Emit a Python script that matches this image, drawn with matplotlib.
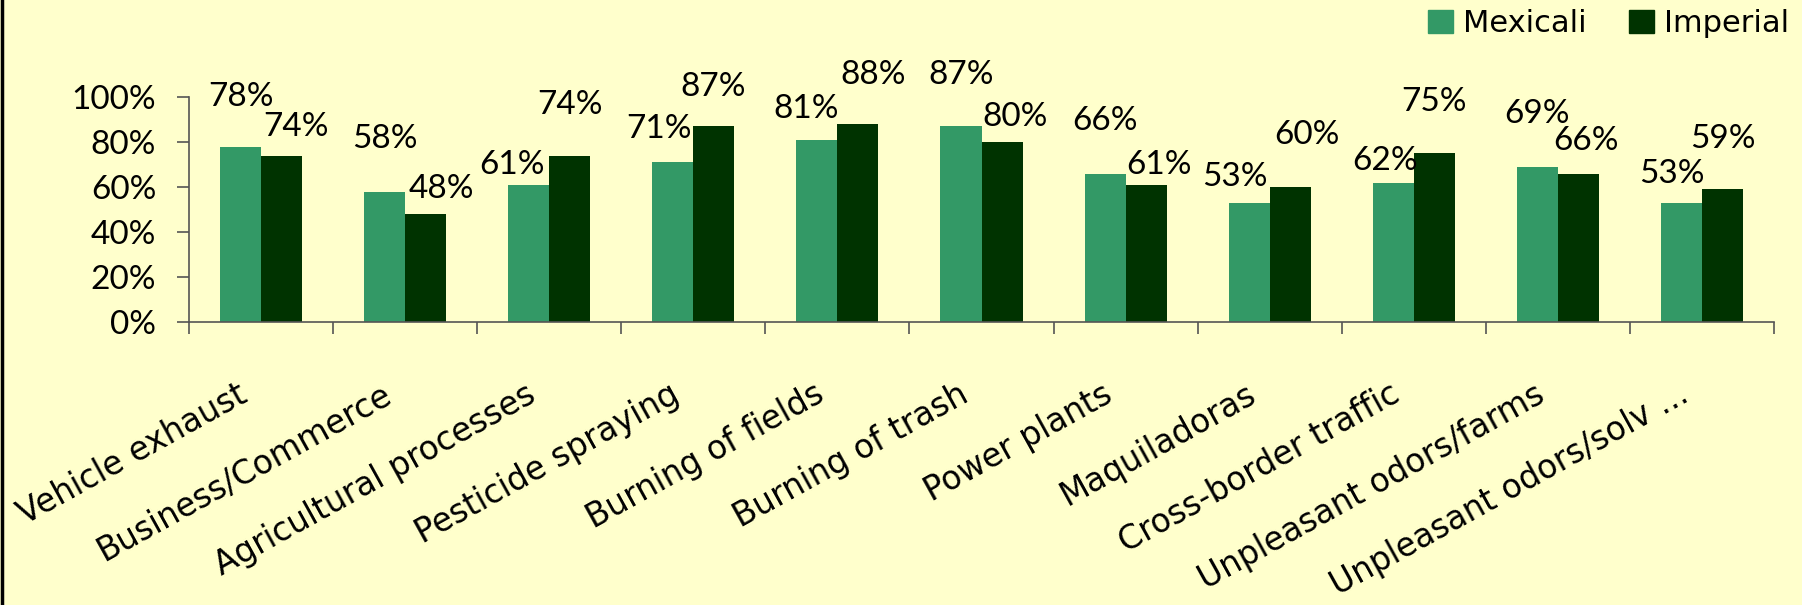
import matplotlib.pyplot as plt
from matplotlib.lines import Line2D
from matplotlib.patches import Patch

# Данні з діаграми
categories = ['Vehicle exhaust', 'Business/Commerce', 'Agricultural processes',
              'Pesticide spraying', 'Burning of fields', 'Burning of trash',
              'Power plants', 'Maquiladoras', 'Cross-border traffic',
              'Unpleasant odors/farms', 'Unpleasant odors/solv ...']
mexicali = [0.78, 0.58, 0.61, 0.71, 0.81, 0.87, 0.66, 0.53, 0.62, 0.69, 0.53]
imperial = [0.74, 0.48, 0.74, 0.87, 0.88, 0.80, 0.61, 0.60, 0.75, 0.66, 0.59]
yticks = [0, 0.2, 0.4, 0.6, 0.8, 1.0]

# Зсуви підписів значень (пікселі від верху стовпця)
mex_off = [(0, 52), (0, 56), (-17, 23), (-14, 36), (-11, 34), (0, 54),
           (0, 55), (-14, 29), (-8, 25), (0, 56), (-10, 32)]
imp_off = [(14, 32), (16, 28), (0, 53), (-1, 42), (15, 52), (13, 28),
           (13, 23), (17, 55), (0, 54), (8, 35), (0, 53)]

bg = '#FFFFCC'
c_mex = '#339966'
c_imp = '#003300'
axis_c = '#555555'
num_font = 'Lato'
txt_font = 'DejaVu Sans'

fig = plt.figure(figsize=(18.02, 6.05), dpi=100, facecolor=bg)
ax = fig.add_axes([189 / 1802, 1 - 322 / 605, (1774 - 189) / 1802, (322 - 97) / 605])
ax.set_facecolor(bg)

w = 0.285
x = [i + 0.5 for i in range(len(categories))]
ax.bar([v - w / 2 for v in x], mexicali, width=w, color=c_mex, label='Mexicali', zorder=2)
ax.bar([v + w / 2 for v in x], imperial, width=w, color=c_imp, label='Imperial', zorder=2)

for i in range(len(categories)):
    for val, xc, off in ((mexicali[i], x[i] - w / 2, mex_off[i]),
                         (imperial[i], x[i] + w / 2, imp_off[i])):
        ax.annotate(f'{val:.0%}', xy=(xc, val), xytext=(off[0], off[1] - 12),
                    textcoords='offset pixels', ha='center', va='baseline',
                    fontsize=24, family=num_font, color='black', annotation_clip=False)
    ax.annotate(categories[i], xy=(x[i], 0), xycoords=('data', 'axes fraction'),
                xytext=(-16, -70), textcoords='offset pixels', rotation=29,
                rotation_mode='anchor', ha='right', va='center', fontsize=23.5,
                family=txt_font, annotation_clip=False)

ax.set_xlim(0, len(categories))
ax.set_ylim(0, 1)
ax.set_xticks(range(len(categories) + 1))
ax.set_xticklabels([])
ax.set_yticks(yticks)
ax.set_yticklabels([f'{t:.0%}' for t in yticks], fontsize=24, family=num_font)

for s in ['top', 'right']:
    ax.spines[s].set_visible(False)
for s in ['left', 'bottom']:
    ax.spines[s].set_color(axis_c)
    ax.spines[s].set_linewidth(1.2)
ax.tick_params(axis='both', direction='out', length=8.6, width=1.2, color=axis_c)
ax.tick_params(axis='y', pad=15)

handles = [Patch(color=c_mex), Patch(color=c_imp)]
fig.legend(handles, ['Mexicali', 'Imperial'], loc='upper right',
           bbox_to_anchor=(1789 / 1802, 1 - 9 / 605), ncol=2, frameon=False,
           prop={'family': txt_font, 'size': 22}, handlelength=0.8,
           handleheight=0.8, handletextpad=0.33, columnspacing=1.4,
           borderpad=0, borderaxespad=0)

# Чорна лінія по лівому краю
fig.add_artist(Line2D([0.001, 0.001], [0, 1], transform=fig.transFigure,
                      color='black', linewidth=2.5))

fig.savefig('out.png', dpi=100, facecolor=bg)
